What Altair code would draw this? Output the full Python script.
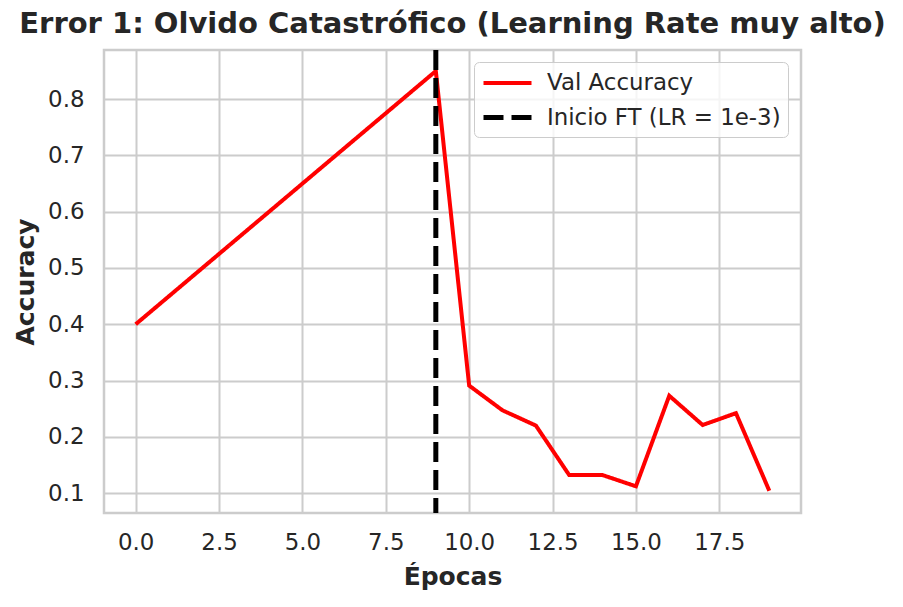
import altair as alt
import pandas as pd

epochs = list(range(20))
val_acc = [0.40, 0.45, 0.50, 0.55, 0.60, 0.65, 0.70, 0.75, 0.80, 0.85,
           0.291, 0.247, 0.220, 0.132, 0.132, 0.112, 0.273, 0.221, 0.242, 0.104]
ft_start = [9]
series_names = ["Val Accuracy", "Inicio FT (LR = 1e-3)"]
x_ticks = [0, 2.5, 5, 7.5, 10, 12.5, 15, 17.5]
y_ticks = [0.1, 0.2, 0.3, 0.4, 0.5, 0.6, 0.7, 0.8]

FONT = "DejaVu Sans"
TXT = "#262626"

line_df = pd.DataFrame({"epoch": epochs, "acc": val_acc, "serie": series_names[0]})
rule_df = pd.DataFrame({"epoch": ft_start, "serie": series_names[1]})

legend = alt.Legend(
    title=None, orient="none", legendX=370, legendY=12,
    symbolType="M-1,0H3", symbolSize=576, labelOffset=37, labelLimit=500,
    labelFont=FONT, labelFontSize=22.9, labelColor=TXT,
    padding=7, rowPadding=8, fillColor="rgba(255,255,255,0.8)",
    strokeColor="#cccccc", cornerRadius=5, symbolFillColor="transparent",
)

color = alt.Color("serie:N", scale=alt.Scale(domain=series_names, range=["#ff0000", "#000000"]), legend=legend)
dash = alt.StrokeDash("serie:N", scale=alt.Scale(domain=series_names, range=[[1, 0], [20, 8]]), legend=legend)
width = alt.StrokeWidth("serie:N", scale=alt.Scale(domain=series_names, range=[4, 5]), legend=legend)

x_enc = alt.X("epoch:Q", title="Épocas",
              scale=alt.Scale(domain=[-0.95, 19.95], nice=False, zero=False),
              axis=alt.Axis(values=x_ticks, format=".1f", labelPadding=18, titlePadding=11))

line = alt.Chart(line_df).mark_line(clip=True).encode(
    x=x_enc,
    y=alt.Y("acc:Q", title="Accuracy",
            scale=alt.Scale(domain=[0.0646, 0.8874], nice=False, zero=False),
            axis=alt.Axis(values=y_ticks, format=".1f", labelPadding=20, titlePadding=9)),
    color=color, strokeDash=dash, strokeWidth=width,
)

rule = alt.Chart(rule_df).mark_rule().encode(
    x=alt.X("epoch:Q"),
    color=color, strokeDash=dash, strokeWidth=width,
)

chart = alt.layer(line, rule).properties(
    width=697, height=463,
    title=alt.TitleParams("Error 1: Olvido Catastrófico (Learning Rate muy alto)",
                          font=FONT, fontSize=29, fontWeight="bold", color=TXT,
                          anchor="middle", baseline="alphabetic", offset=13, dy=27),
    autosize=alt.AutoSizeParams(type="none"),
    padding={"left": 104, "top": 50, "right": 102, "bottom": 94},
).configure(
    background="white"
).configure_view(
    stroke="#cccccc", strokeWidth=2.5, fill="white",
).configure_axis(
    grid=True, gridColor="#cccccc", gridWidth=2, domain=False, ticks=False, tickSize=0,
    labelFont=FONT, labelFontSize=22.9, labelColor=TXT,
    titleFont=FONT, titleFontSize=25, titleFontWeight="bold", titleColor=TXT,
)

chart.save("out.html", embed_options={"renderer": "svg", "actions": False})
